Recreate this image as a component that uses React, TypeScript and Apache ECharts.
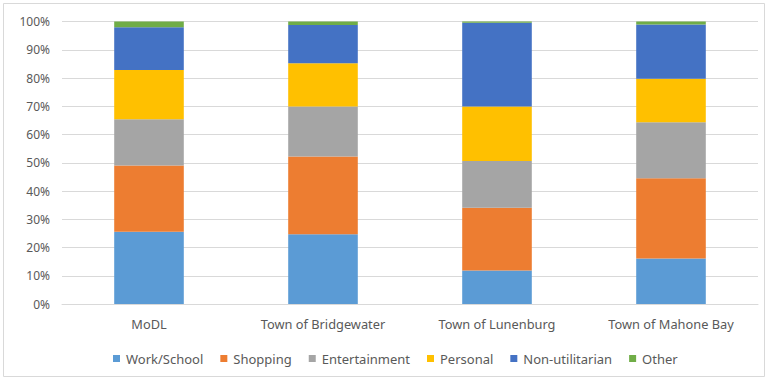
import React, { useEffect, useRef } from "react";
import * as echarts from "echarts";

const categories = ["MoDL", "Town of Bridgewater", "Town of Lunenburg", "Town of Mahone Bay"];
const seriesNames = ["Work/School", "Shopping", "Entertainment", "Personal", "Non-utilitarian", "Other"];
const workSchool = [25.6, 24.7, 11.9, 16.1];
const shopping = [23.4, 27.5, 22.2, 28.4];
const entertainment = [16.4, 17.7, 16.5, 19.8];
const personal = [17.4, 15.3, 19.3, 15.4];
const nonUtilitarian = [15.2, 13.6, 29.7, 19.2];
const other = [2.0, 1.2, 0.4, 1.1];
const colors = ["#5B9BD5", "#ED7D31", "#A5A5A5", "#FFC000", "#4472C4", "#70AD47"];
const yTicks = [0, 10, 20, 30, 40, 50, 60, 70, 80, 90, 100];

export default function App() {
  const ref = useRef<HTMLDivElement>(null);
  useEffect(() => {
    document.body.style.margin = "0";
    const chart = echarts.init(ref.current!, null, { renderer: "svg" });
    const data = [workSchool, shopping, entertainment, personal, nonUtilitarian, other];
    const font = "'Noto Sans', sans-serif";
    chart.setOption({
      animation: false,
      color: colors,
      graphic: [
        {
          type: "rect",
          shape: { x: 3.5, y: 3.5, width: 761, height: 373 },
          style: { fill: "none", stroke: "#D9D9D9", lineWidth: 1 },
        },
      ],
      grid: { left: 62, right: 10, top: 21.5, bottom: 76 },
      legend: {
        data: seriesNames,
        top: 347,
        left: 108,
        itemWidth: 7,
        itemHeight: 7,
        itemGap: 17,
        icon: "rect",
        textStyle: { color: "#595959", fontSize: 13, fontFamily: font, padding: [0, 0, 0, 1] },
      },
      xAxis: {
        type: "category",
        data: categories,
        axisLine: { lineStyle: { color: "#D9D9D9" } },
        axisTick: { show: false },
        axisLabel: { color: "#595959", fontSize: 12.8, fontFamily: font, margin: 13 },
      },
      yAxis: {
        type: "value",
        min: 0,
        max: 100,
        interval: 10,
        axisLabel: {
          color: "#595959",
          fontSize: 12,
          fontFamily: font,
          margin: 12,
          formatter: (v: number) => (yTicks.includes(v) ? v + "%" : ""),
        },
        splitLine: { lineStyle: { color: "#D9D9D9" } },
        axisLine: { show: false },
        axisTick: { show: false },
      },
      series: seriesNames.map((name, i) => ({
        name,
        type: "bar",
        stack: "total",
        barWidth: "40%",
        data: data[i],
      })),
    });
    return () => chart.dispose();
  }, []);
  return <div ref={ref} style={{ width: 768, height: 380 }} />;
}
